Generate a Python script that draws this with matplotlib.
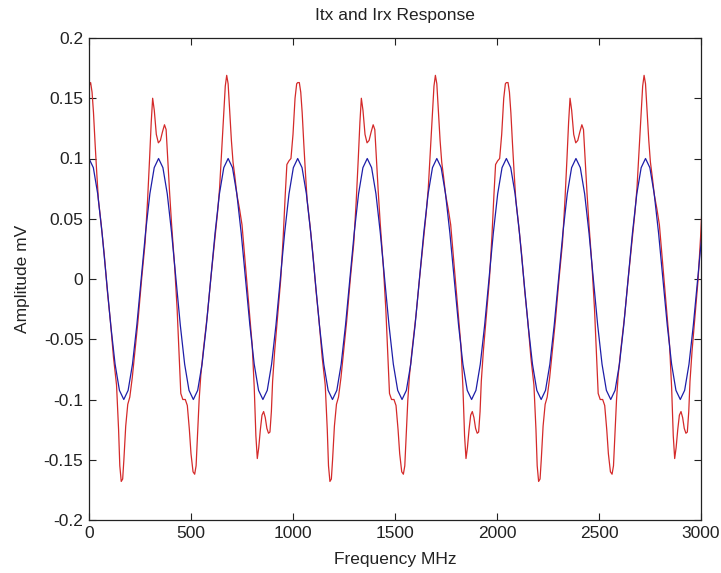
import numpy as np
import matplotlib
matplotlib.use("Agg")
import matplotlib.pyplot as plt

plt.rcParams["font.family"] = ["Liberation Sans", "DejaVu Sans"]

# Itx (blue): sampled every 21.3125 MHz
blue_step = 21.3125
blue_amp = [
    0.1, 0.0924, 0.0707, 0.0383, 0.0, -0.0383, -0.0707, -0.0924, -0.1, -0.0924, -0.0707, -0.0383, 0.0, 0.0383, 0.0707, 0.0924,
    0.1, 0.0924, 0.0707, 0.0383, 0.0, -0.0383, -0.0707, -0.0924, -0.1, -0.0924, -0.0707, -0.0383, 0.0, 0.0383, 0.0707, 0.0924,
    0.1, 0.0924, 0.0707, 0.0383, 0.0, -0.0383, -0.0707, -0.0924, -0.1, -0.0924, -0.0707, -0.0383, 0.0, 0.0383, 0.0707, 0.0924,
    0.1, 0.0924, 0.0707, 0.0383, 0.0, -0.0383, -0.0707, -0.0924, -0.1, -0.0924, -0.0707, -0.0383, 0.0, 0.0383, 0.0707, 0.0924,
    0.1, 0.0924, 0.0707, 0.0383, 0.0, -0.0383, -0.0707, -0.0924, -0.1, -0.0924, -0.0707, -0.0383, 0.0, 0.0383, 0.0707, 0.0924,
    0.1, 0.0924, 0.0707, 0.0383, 0.0, -0.0383, -0.0707, -0.0924, -0.1, -0.0924, -0.0707, -0.0383, 0.0, 0.0383, 0.0707, 0.0924,
    0.1, 0.0924, 0.0707, 0.0383, 0.0, -0.0383, -0.0707, -0.0924, -0.1, -0.0924, -0.0707, -0.0383, 0.0, 0.0383, 0.0707, 0.0924,
    0.1, 0.0924, 0.0707, 0.0383, 0.0, -0.0383, -0.0707, -0.0924, -0.1, -0.0924, -0.0707, -0.0383, 0.0, 0.0383, 0.0707, 0.0924,
    0.1, 0.0924, 0.0707, 0.0383, 0.0, -0.0383, -0.0707, -0.0924, -0.1, -0.0924, -0.0707, -0.0383, 0.0, 0.0383,
]
blue_freq = np.arange(len(blue_amp)) * blue_step

# Irx (red): frequencies in MHz
red_freq = [
    0, 8, 15, 22, 30, 38, 46, 60, 75, 90, 105, 120, 135, 145, 151, 158, 165, 171, 180, 190,
    200, 212, 225, 240, 258, 275, 287, 297, 305, 312, 320, 330, 340, 350, 360, 370, 378, 386, 395, 405,
    420, 432, 442, 450, 460, 472, 482, 492, 500, 510, 518, 525, 532, 540, 548, 560, 580, 597, 615, 630,
    640, 650, 660, 668, 675, 682, 690, 698, 706, 715, 725, 738, 750, 760, 772, 785, 800, 810, 818, 825,
    832, 840, 848, 856, 864, 872, 880, 887, 894, 900, 910, 925, 940, 952, 962, 970, 980, 990, 1000, 1010, 1018,
    1023, 1031, 1038, 1045, 1053, 1061, 1069, 1083, 1098, 1113, 1128, 1143, 1158, 1168, 1174, 1181, 1188, 1194, 1203, 1213,
    1223, 1235, 1248, 1263, 1281, 1298, 1310, 1320, 1328, 1335, 1343, 1353, 1363, 1373, 1383, 1393, 1401, 1409, 1418, 1428,
    1443, 1455, 1465, 1473, 1483, 1495, 1505, 1515, 1523, 1533, 1541, 1548, 1555, 1563, 1571, 1583, 1603, 1620, 1638, 1653,
    1663, 1673, 1683, 1691, 1698, 1705, 1713, 1721, 1729, 1738, 1748, 1761, 1773, 1783, 1795, 1808, 1823, 1833, 1841, 1848,
    1855, 1863, 1871, 1879, 1887, 1895, 1903, 1910, 1917, 1923, 1933, 1948, 1963, 1975, 1985, 1993, 2003, 2013, 2023, 2033, 2041,
    2046, 2054, 2061, 2068, 2076, 2084, 2092, 2106, 2121, 2136, 2151, 2166, 2181, 2191, 2197, 2204, 2211, 2217, 2226, 2236,
    2246, 2258, 2271, 2286, 2304, 2321, 2333, 2343, 2351, 2358, 2366, 2376, 2386, 2396, 2406, 2416, 2424, 2432, 2441, 2451,
    2466, 2478, 2488, 2496, 2506, 2518, 2528, 2538, 2546, 2556, 2564, 2571, 2578, 2586, 2594, 2606, 2626, 2643, 2661, 2676,
    2686, 2696, 2706, 2714, 2721, 2728, 2736, 2744, 2752, 2761, 2771, 2784, 2796, 2806, 2818, 2831, 2846, 2856, 2864, 2871,
    2878, 2886, 2894, 2902, 2910, 2918, 2926, 2933, 2940, 2946, 2956, 2971, 2986, 2998, 3008,
]
red_amp = [
    0.160, 0.163, 0.155, 0.138, 0.112, 0.088, 0.066, 0.045, 0.020, -0.010, -0.035, -0.065, -0.088, -0.125, -0.155, -0.168, -0.166, -0.150, -0.122, -0.104,
    -0.098, -0.082, -0.060, -0.035, 0.000, 0.030, 0.065, 0.100, 0.130, 0.150, 0.140, 0.120, 0.113, 0.115, 0.122, 0.128, 0.124, 0.100, 0.072, 0.045,
    0.010, -0.025, -0.065, -0.095, -0.100, -0.100, -0.105, -0.125, -0.145, -0.160, -0.162, -0.155, -0.130, -0.100, -0.080, -0.060, -0.030, 0.000, 0.030, 0.055,
    0.075, 0.105, 0.135, 0.160, 0.169, 0.162, 0.138, 0.115, 0.097, 0.085, 0.070, 0.058, 0.045, 0.025, 0.000, -0.025, -0.055, -0.090, -0.130, -0.149,
    -0.140, -0.125, -0.113, -0.110, -0.115, -0.124, -0.128, -0.127, -0.110, -0.085, -0.060, -0.030, 0.000, 0.035, 0.070, 0.095, 0.098, 0.100, 0.120, 0.150, 0.162,
    0.163, 0.163, 0.155, 0.138, 0.112, 0.088, 0.066, 0.045, 0.020, -0.010, -0.035, -0.065, -0.088, -0.125, -0.155, -0.168, -0.166, -0.150, -0.122, -0.104,
    -0.098, -0.082, -0.060, -0.035, 0.000, 0.030, 0.065, 0.100, 0.130, 0.150, 0.140, 0.120, 0.113, 0.115, 0.122, 0.128, 0.124, 0.100, 0.072, 0.045,
    0.010, -0.025, -0.065, -0.095, -0.100, -0.100, -0.105, -0.125, -0.145, -0.160, -0.162, -0.155, -0.130, -0.100, -0.080, -0.060, -0.030, 0.000, 0.030, 0.055,
    0.075, 0.105, 0.135, 0.160, 0.169, 0.162, 0.138, 0.115, 0.097, 0.085, 0.070, 0.058, 0.045, 0.025, 0.000, -0.025, -0.055, -0.090, -0.130, -0.149,
    -0.140, -0.125, -0.113, -0.110, -0.115, -0.124, -0.128, -0.127, -0.110, -0.085, -0.060, -0.030, 0.000, 0.035, 0.070, 0.095, 0.098, 0.100, 0.120, 0.150, 0.162,
    0.163, 0.163, 0.155, 0.138, 0.112, 0.088, 0.066, 0.045, 0.020, -0.010, -0.035, -0.065, -0.088, -0.125, -0.155, -0.168, -0.166, -0.150, -0.122, -0.104,
    -0.098, -0.082, -0.060, -0.035, 0.000, 0.030, 0.065, 0.100, 0.130, 0.150, 0.140, 0.120, 0.113, 0.115, 0.122, 0.128, 0.124, 0.100, 0.072, 0.045,
    0.010, -0.025, -0.065, -0.095, -0.100, -0.100, -0.105, -0.125, -0.145, -0.160, -0.162, -0.155, -0.130, -0.100, -0.080, -0.060, -0.030, 0.000, 0.030, 0.055,
    0.075, 0.105, 0.135, 0.160, 0.169, 0.162, 0.138, 0.115, 0.097, 0.085, 0.070, 0.058, 0.045, 0.025, 0.000, -0.025, -0.055, -0.090, -0.130, -0.149,
    -0.140, -0.125, -0.113, -0.110, -0.115, -0.124, -0.128, -0.127, -0.110, -0.085, -0.060, -0.030, 0.000, 0.035, 0.070,
]

x_ticks = [0, 500, 1000, 1500, 2000, 2500, 3000]
y_ticks = [-0.2, -0.15, -0.1, -0.05, 0, 0.05, 0.1, 0.15, 0.2]
y_tick_labels = ["-0.2", "-0.15", "-0.1", "-0.05", "0", "0.05", "0.1", "0.15", "0.2"]

fig = plt.figure(figsize=(7.21, 5.73), dpi=100)
ax = fig.add_axes([89 / 721, 53 / 573, 612 / 721, 482 / 573])

ax.plot(red_freq, red_amp, color="#d42a2a", linewidth=0.9)
ax.plot(blue_freq, blue_amp, color="#1e1ea8", linewidth=0.9)

ax.set_xlim(0, 3000)
ax.set_ylim(-0.2, 0.2)
ax.set_xticks(x_ticks)
ax.set_xticklabels([str(t) for t in x_ticks])
ax.set_yticks(y_ticks)
ax.set_yticklabels(y_tick_labels)

ax.tick_params(direction="in", length=5, width=0.8, top=True, right=True,
               labelsize=12.5, pad=4, colors="#222222")
for s in ax.spines.values():
    s.set_linewidth(0.9)
    s.set_color("#222222")

ax.set_title("Itx and Irx Response", fontsize=12.5, pad=13, color="#222222")
ax.set_xlabel("Frequency MHz", fontsize=12.5, labelpad=8, color="#222222")
ax.set_ylabel("Amplitude mV", fontsize=12.5, labelpad=10, color="#222222")

fig.savefig("out.png", dpi=100)
